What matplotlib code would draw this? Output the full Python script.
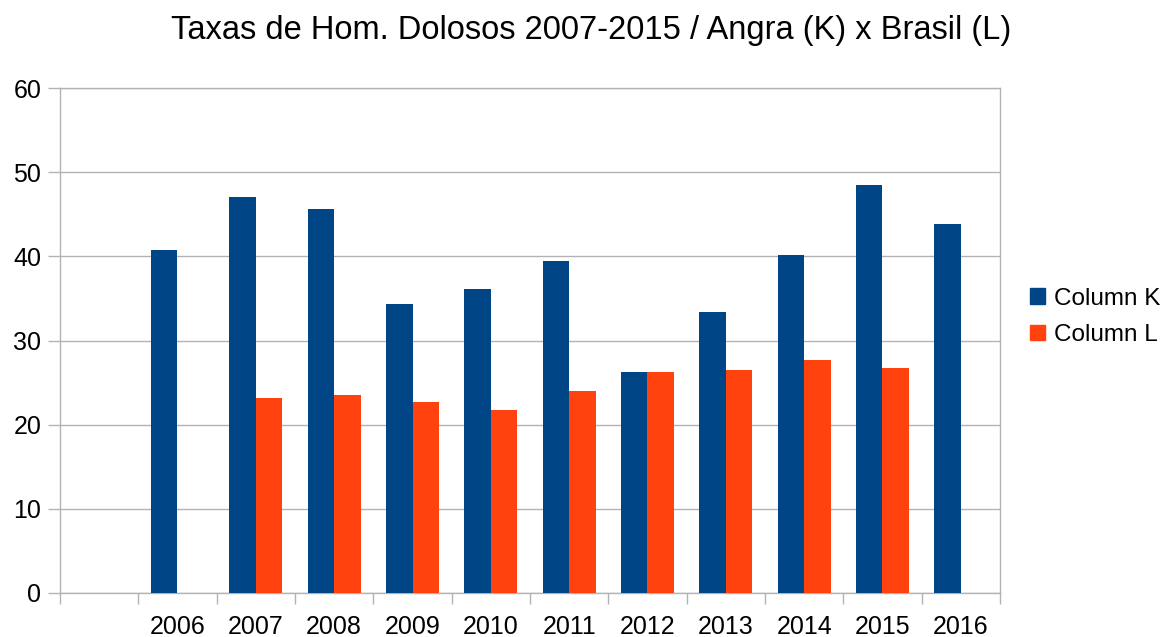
import numpy as np
import matplotlib.pyplot as plt
from matplotlib.patches import Patch

plt.rcParams['font.family'] = ['Liberation Sans', 'DejaVu Sans']

# data
years = ["", "2006", "2007", "2008", "2009", "2010", "2011",
         "2012", "2013", "2014", "2015", "2016"]
col_k = [np.nan, 40.8, 47.1, 45.6, 34.3, 36.1, 39.4, 26.2, 33.4, 40.1, 48.5, 43.8]
col_l = [np.nan, np.nan, 23.2, 23.5, 22.7, 21.7, 24.0, 26.2, 26.5, 27.7, 26.7, np.nan]

BLUE = "#004586"
ORANGE = "#ff420e"
GRID = "#b3b3b3"

fig = plt.figure(figsize=(11.74, 6.37), dpi=100)
ax = fig.add_axes([60 / 1174, 1 - 593 / 637, 940 / 1174, 505 / 637])

x = np.arange(len(years))
w = 0.34
ax.bar(x - w / 2, col_k, width=w, color=BLUE, zorder=3)
ax.bar(x + w / 2, col_l, width=w, color=ORANGE, zorder=3)

ax.set_xlim(-0.5, len(years) - 0.5)
ax.set_ylim(0, 60)
ax.set_yticks(np.arange(0, 61, 10))
ax.yaxis.grid(True, color=GRID, linewidth=1, zorder=0)

ax.set_xticks(x)
ax.set_xticklabels(years)
ax.set_xticks(np.arange(-0.5, len(years)), minor=True)
ax.tick_params(axis="x", which="major", length=0, pad=16, labelsize=18)
ax.tick_params(axis="x", which="minor", length=8, color=GRID, width=1)
ax.tick_params(axis="y", length=8.5, color=GRID, width=1, pad=5, labelsize=18)

for s in ax.spines.values():
    s.set_color(GRID)
    s.set_linewidth(1)

fig.suptitle("Taxas de Hom. Dolosos 2007-2015 / Angra (K) x Brasil (L)",
             x=591 / 1174, y=1 - 31 / 637, va="center", fontsize=23.5)

handles = [Patch(color=BLUE, label="Column K"), Patch(color=ORANGE, label="Column L")]
fig.legend(handles=handles, loc="center left", bbox_to_anchor=(1013 / 1174, 1 - 317 / 637),
           frameon=False, fontsize=17.5, handlelength=0.6, handleheight=0.6,
           handletextpad=0.4, labelspacing=0.6, borderpad=0.2)

fig.savefig("out.png", dpi=100)
